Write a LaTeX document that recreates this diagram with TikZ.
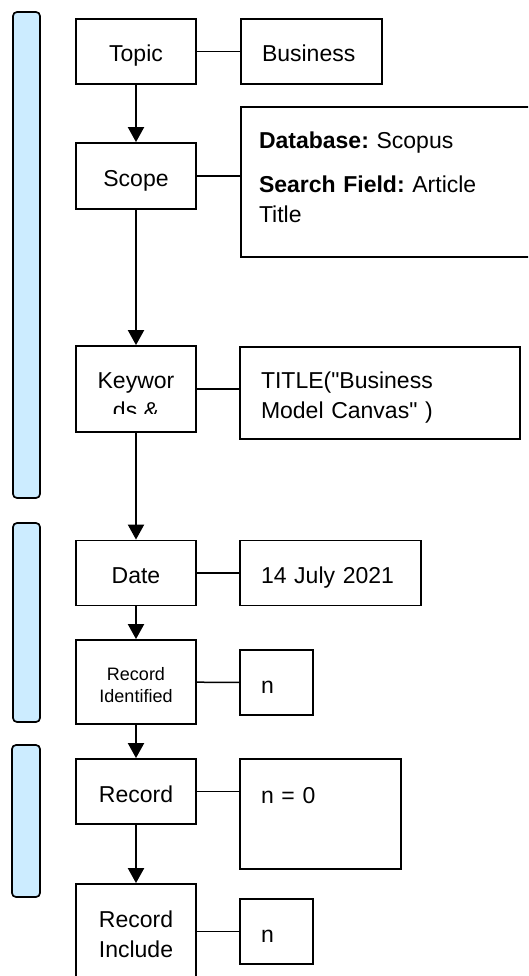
\documentclass[tikz,border=0pt]{standalone}
\usepackage{fontspec}
\setmainfont{Liberation Sans}[Ligatures=TeXOff]
\usetikzlibrary{arrows.meta,positioning}

\definecolor{barblue}{RGB}{204,236,255}
\frenchspacing

\tikzset{
  stepbox/.style={draw, line width=1.8pt, inner xsep=2pt, inner ysep=0pt,
    text width=116pt, align=center, minimum height=65pt,
    font=\fontsize{23}{30}\selectfont, text height=23pt, text depth=2pt},
  valbox/.style={draw, line width=1.8pt, inner xsep=21pt, inner ysep=0pt,
    align=left, minimum height=65pt,
    font=\fontsize{23}{30}\selectfont, text height=23pt, text depth=2pt},
  flow/.style={line width=2pt, -{Triangle[length=15pt,width=16pt]}},
  link/.style={line width=1.5pt},
  phase/.style={draw, line width=1.7pt, rounded corners=4pt, fill=barblue}
}

\begin{document}
\begin{tikzpicture}[x=1pt, y=-1pt]
  \useasboundingbox (0,0) rectangle (528,976);%
  \clip (0,0) rectangle (528,976);%

  % Drawing phase bars
  \draw [phase] (13,12) rectangle (40,498);%
  \draw [phase] (13,523) rectangle (40,722);%
  \draw [phase] (12,745) rectangle (40,897);%

  % Drawing step boxes
  \node [stepbox] (topic) at (136,51.5) {Topic};%
  \node [stepbox, minimum height=66pt] (scope) at (136,176) {Scope};%
  \node [stepbox, minimum height=0pt, text height=42pt, text depth=44pt] (kw) at (136,389) {Keywor};%
  \node [stepbox] (date) at (136,573) {Date};%
  \node [stepbox, minimum height=0pt, font=\fontsize{18}{22}\selectfont,
         text height=40pt, text depth=44pt] (recid) at (136,682) {Record\\Identified};%
  \node [stepbox] (rec) at (136,791.5) {Record};%
  \node [stepbox, minimum height=0pt, text height=43pt, text depth=55pt] (recinc) at (136,933) {Record\\Include};%

  % Cut second line of the keyword box
  \begin{scope}
    \clip (kw.north west) rectangle ([yshift=-24pt]kw.east);%
    \node [font=\fontsize{23}{30}\selectfont, anchor=base] (kwcut) at (136,418) {ds \&};%
  \end{scope}

  % Drawing value boxes
  \node [valbox, text width=99pt] (business) at (311.5,51.5) {Business};%
  \node [valbox, inner xsep=18pt, text width=264pt, minimum height=0pt,
         text height=42pt, text depth=108pt] (db) at (391,182)
        {\textbf{Database:} Scopus\\[14pt]\textbf{Search Field:} Article\\Title};%
  \node [valbox, text width=238pt, minimum height=0pt, text height=41pt, text depth=51pt] (title) at (380,393)
        {TITLE("Business\\Model Canvas" )};%
  \node [valbox, text width=139pt] (dateval) at (330.5,573) {14 July 2021};%
  \node [valbox, text width=31pt] (nid) at (276.5,682.5) {n};%
  \node [valbox, text width=119pt, minimum height=0pt, text height=44pt, text depth=66pt] (n0) at (320.5,814) {n = 0};%
  \node [valbox, text width=31pt] (ninc) at (276.5,931.5) {n};%

  % Drawing flow arrows
  \draw [flow] (topic) -- (scope);%
  \draw [flow] (scope) -- (kw);%
  \draw [flow] (kw) -- (date);%
  \draw [flow] (date) -- (recid);%
  \draw [flow] (recid) -- (rec);%
  \draw [flow] (rec) -- (recinc);%

  % Drawing links to values
  \draw [link] (topic) -- (business);%
  \draw [link] (scope.east) -- (scope.east -| db.west);%
  \draw [link] (kw.east) -- (kw.east -| title.west);%
  \draw [link] (date) -- (dateval);%
  \draw [link] (recid) -- (nid);%
  \draw [link] (rec.east) -- (rec.east -| n0.west);%
  \draw [link] (ninc.west -| recinc.east) -- (ninc);%
\end{tikzpicture}
\end{document}
